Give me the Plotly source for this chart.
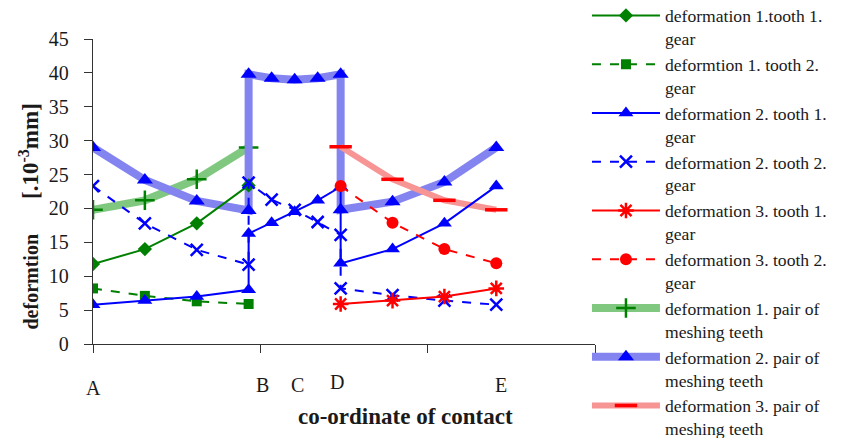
import plotly.graph_objects as go

# ---- data ----
x_ab = [0, 3.1, 6.2, 9.3]
x_abde = [0, 3.1, 6.2, 9.3, 9.3, 10.675, 12.05, 13.425, 14.8, 14.8, 17.9, 21.0, 24.1]
x_de = [14.8, 17.9, 21.0, 24.1]

def1_tooth1 = [11.8, 14.0, 17.8, 23.4]
def1_tooth2 = [8.2, 7.1, 6.3, 5.9]
def2_tooth1 = [5.8, 6.4, 7.0, 8.0, 16.3, 17.9, 19.5, 21.2, 23.2, 11.9, 14.0, 17.8, 23.3]
def2_tooth2 = [23.3, 17.8, 13.9, 11.7, 23.8, 21.3, 19.8, 18.0, 16.1, 8.2, 7.2, 6.4, 5.8]
def3_tooth1 = [5.9, 6.4, 7.0, 8.2]
def3_tooth2 = [23.3, 17.9, 14.0, 11.9]
pair1 = [19.8, 21.2, 24.3, 29.0]
pair2 = [29.0, 24.2, 21.1, 19.7, 39.8, 39.2, 39.0, 39.2, 39.8, 19.8, 21.0, 23.9, 29.0]
pair3 = [29.1, 24.3, 21.2, 19.8]

X_RANGE = [0, 30]
Y_RANGE = [0, 45]
x_tickvals = [0, 10, 20, 30]

point_labels = ["A", "B", "C", "D", "E"]
point_label_x = [0, 10.1, 12.2, 14.6, 24.4]
point_label_y = [-6.5, -6.05, -6.05, -5.6, -6.05]

names = [
    "deformation 1.tooth 1.<br>gear",
    "deformtion 1. tooth 2.<br>gear",
    "deformation 2. tooth 1.<br>gear",
    "deformation 2. tooth 2.<br>gear",
    "deformation 3. tooth 1.<br>gear",
    "deformation 3. tooth 2.<br>gear",
    "deformation 1. pair of<br>meshing teeth",
    "deformation 2. pair of<br>meshing teeth",
    "deformation 3. pair of<br>meshing teeth",
]

GREEN = "#008000"
BLUE = "#0000ff"
RED = "#ff0000"
SERIF = "Liberation Serif"
TXT = "#1a1a1a"

# the page adds an 8px body margin; figure is sized so it ends at the window edge
W, H = 856, 430
L, R, T, B = 85, 587, 31, 336


def px_x(px):
    return (px - L) / (R - L)


def px_y(py):
    return (B - py) / (B - T)


fig = go.Figure()

# thick "pair" lines (drawn first, listed last in legend)
fig.add_trace(go.Scatter(x=x_ab, y=pair1, name=names[6], legendrank=7, mode="lines+markers",
                         line=dict(color="#80c880", width=8),
                         marker=dict(symbol="cross-thin-open", size=14, color=GREEN,
                                     line=dict(color=GREEN, width=2.5))))
fig.add_trace(go.Scatter(x=x_abde, y=pair2, name=names[7], legendrank=8, mode="lines+markers",
                         line=dict(color="#8484f0", width=8),
                         marker=dict(symbol="triangle-up", size=14, color=BLUE)))
fig.add_trace(go.Scatter(x=x_de, y=pair3, name=names[8], legendrank=9, mode="lines+markers",
                         line=dict(color="#f79494", width=6),
                         marker=dict(symbol="line-ew-open", size=16, color=RED,
                                     line=dict(color=RED, width=3.5))))

# thin lines
fig.add_trace(go.Scatter(x=x_ab, y=def1_tooth1, name=names[0], legendrank=1, mode="lines+markers",
                         line=dict(color=GREEN, width=2),
                         marker=dict(symbol="diamond", size=11, color=GREEN)))
fig.add_trace(go.Scatter(x=x_ab, y=def1_tooth2, name=names[1], legendrank=2, mode="lines+markers",
                         line=dict(color=GREEN, width=2, dash="dash"),
                         marker=dict(symbol="square", size=10, color=GREEN)))
fig.add_trace(go.Scatter(x=x_abde, y=def2_tooth1, name=names[2], legendrank=3, mode="lines+markers",
                         line=dict(color=BLUE, width=2),
                         marker=dict(symbol="triangle-up", size=13, color=BLUE)))
fig.add_trace(go.Scatter(x=x_abde, y=def2_tooth2, name=names[3], legendrank=4, mode="lines+markers",
                         line=dict(color=BLUE, width=2, dash="dash"),
                         marker=dict(symbol="x-thin-open", size=12, color=BLUE,
                                     line=dict(color=BLUE, width=2.5))))
fig.add_trace(go.Scatter(x=x_de, y=def3_tooth1, name=names[4], legendrank=5, mode="lines+markers",
                         line=dict(color=RED, width=2),
                         marker=dict(symbol="asterisk-open", size=13, color=RED,
                                     line=dict(color=RED, width=2.5))))
fig.add_trace(go.Scatter(x=x_de, y=def3_tooth2, name=names[5], legendrank=6, mode="lines+markers",
                         line=dict(color=RED, width=2, dash="dash"),
                         marker=dict(symbol="circle", size=12, color=RED)))

# contact point letters (paper coords derived from data coords)
for lab, lx, ly in zip(point_labels, point_label_x, point_label_y):
    fig.add_annotation(x=(lx - X_RANGE[0]) / (X_RANGE[1] - X_RANGE[0]),
                       y=(ly - Y_RANGE[0]) / (Y_RANGE[1] - Y_RANGE[0]),
                       xref="paper", yref="paper", xanchor="center", yanchor="middle",
                       text=lab, showarrow=False,
                       font=dict(family=SERIF, size=20, color=TXT))

# axis titles
fig.add_annotation(x=px_x(397), y=px_y(408), xref="paper", yref="paper",
                   xanchor="center", yanchor="middle",
                   text="<b>co-ordinate of contact</b>", showarrow=False,
                   font=dict(family=SERIF, size=23, color=TXT))
fig.add_annotation(x=px_x(21), y=px_y(208.5), xref="paper", yref="paper",
                   xanchor="center", yanchor="middle",
                   text="<b>deformtion&nbsp;&nbsp;&nbsp;&nbsp;&nbsp;&nbsp;&nbsp;<span style='font-size:23px'>[.10<sup>-3</sup>mm]</span></b>",
                   textangle=-90, showarrow=False,
                   font=dict(family=SERIF, size=20, color=TXT))

fig.update_layout(
    width=W, height=H,
    margin=dict(l=L, r=W - R, t=T, b=H - B, pad=0, autoexpand=False),
    paper_bgcolor="white", plot_bgcolor="white",
    showlegend=True,
    legend=dict(x=0.984, y=1.136, xanchor="left", yanchor="top",
                font=dict(family=SERIF, size=17.6, color=TXT),
                itemwidth=68, tracegroupgap=0, valign="top", maxheight=1000,
                bgcolor="rgba(0,0,0,0)"),
    font=dict(family=SERIF, size=18, color=TXT),
)

fig.update_xaxes(range=X_RANGE, tickvals=x_tickvals, showticklabels=False,
                 ticks="outside", ticklen=8, tickcolor="#333", showline=True,
                 linecolor="#333", linewidth=1.3, showgrid=False, zeroline=False)
fig.update_yaxes(range=Y_RANGE, dtick=5, ticks="outside", ticklen=8, tickcolor="#333",
                 showline=True, linecolor="#333", linewidth=1.3, showgrid=False,
                 zeroline=False, ticklabelstandoff=11,
                 tickfont=dict(family=SERIF, size=20, color=TXT))

fig.write_html("out.html")
